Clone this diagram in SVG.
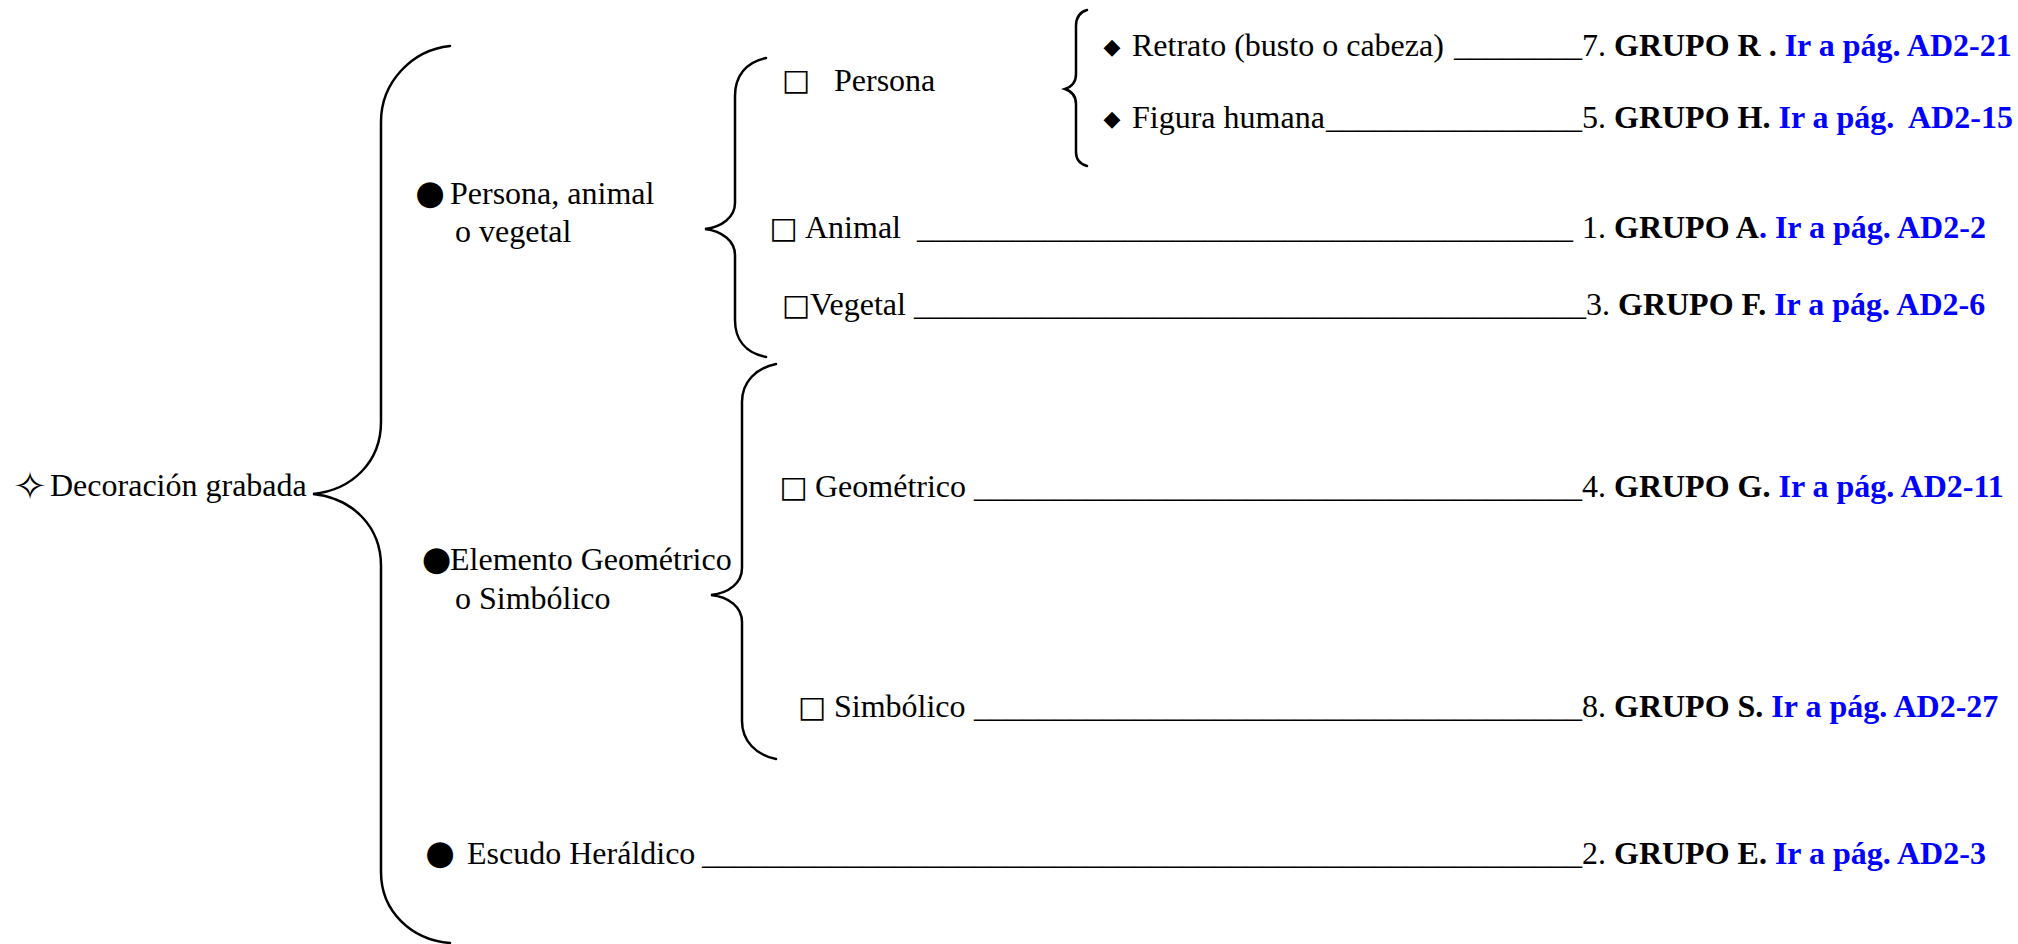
<svg xmlns="http://www.w3.org/2000/svg" width="2018" height="944" viewBox="0 0 2018 944">
<style>
.t{font-family:"Liberation Serif","Times New Roman",serif;font-size:32px;fill:#000}
.b{font-weight:bold}
.lk{fill:#0000ff;font-weight:bold}
.sym{font-family:"DejaVu Sans",sans-serif;fill:#000;text-anchor:middle}
.box{font-size:30px}
.dot{font-size:34px}
.dia{font-size:22px}
.brace{fill:none;stroke:#000;stroke-width:2.5;stroke-linecap:round}
</style>
<rect width="2018" height="944" fill="#fff"/>
<g id="connectors">
<path class="brace" d="M450,46 C412,50 381,82 381,122 L381,422 C381,462 352,490 313,494 C352,498 381,526 381,566 L381,872 C381,912 412,940 450,943"/>
<path class="brace" d="M766,58 C746,62 735,76 735,96 L735,203 C735,217 722,227 705,229 C722,231 735,241 735,255 L735,320 C735,340 746,353 766,357"/>
<path class="brace" d="M776,364 C756,368 742,382 742,402 L742,568 C742,583 729,593 711,595 C729,597 742,607 742,622 L742,721 C742,741 756,755 776,759"/>
<path class="brace" d="M1087,10 C1080,12 1076,18 1076,26 L1076,74 C1076,82 1071,87 1065,89 C1071,91 1076,96 1076,104 L1076,152 C1076,160 1080,164 1087,166"/>
</g>
<g id="root">
<text class="sym" x="30" y="500" style="font-size:40px">✧</text>
<text class="t" x="50" y="496">Decoración grabada</text>
</g>
<g id="persona-animal-vegetal">
<text class="sym dot" x="430" y="204">●</text>
<text class="t" x="450" y="204">Persona, animal</text>
<text class="t" x="455" y="242">o vegetal</text>
</g>
<g id="elemento-geometrico-simbolico">
<text class="sym dot" x="436.5" y="570">●</text>
<text class="t" x="450" y="570">Elemento Geométrico</text>
<text class="t" x="455" y="609">o Simbólico</text>
</g>
<g id="escudo-heraldico">
<text class="sym dot" x="440" y="864">●</text>
<text class="t" y="864"><tspan x="467">Escudo Heráldico</tspan><tspan x="702">_______________________________________________________</tspan><tspan x="1582">2. <tspan class="b">GRUPO E. </tspan><tspan class="lk">Ir a pág. AD2-3</tspan></tspan></text>
</g>
<g id="persona">
<text class="sym box" x="796" y="90">□</text>
<text class="t" x="834" y="91">Persona</text>
</g>
<g id="retrato">
<text class="sym dia" x="1112" y="54">◆</text>
<text class="t" y="56"><tspan x="1132">Retrato (busto o cabeza)</tspan><tspan x="1454">________</tspan><tspan x="1582">7. <tspan class="b">GRUPO R . </tspan><tspan class="lk">Ir a pág. AD2-21</tspan></tspan></text>
</g>
<g id="figura-humana">
<text class="sym dia" x="1112" y="126">◆</text>
<text class="t" y="128"><tspan x="1132">Figura humana</tspan><tspan x="1326">________________</tspan><tspan x="1582">5. <tspan class="b">GRUPO H. </tspan><tspan class="lk">Ir a pág.</tspan></tspan><tspan x="1908" class="lk">AD2-15</tspan></text>
</g>
<g id="animal">
<text class="sym box" x="783.5" y="238">□</text>
<text class="t" y="238"><tspan x="805">Animal</tspan><tspan x="917">_________________________________________</tspan><tspan x="1582">1. <tspan class="b">GRUPO A</tspan><tspan class="lk">. Ir a pág. AD2-2</tspan></tspan></text>
</g>
<g id="vegetal">
<text class="sym box" x="796" y="315">□</text>
<text class="t" y="315"><tspan x="810">Vegetal</tspan><tspan x="914">__________________________________________</tspan><tspan x="1586">3. <tspan class="b">GRUPO F. </tspan><tspan class="lk">Ir a pág. AD2-6</tspan></tspan></text>
</g>
<g id="geometrico">
<text class="sym box" x="793.5" y="497">□</text>
<text class="t" y="497"><tspan x="815">Geométrico</tspan><tspan x="974">______________________________________</tspan><tspan x="1582">4. <tspan class="b">GRUPO G. </tspan><tspan class="lk">Ir a pág. AD2-11</tspan></tspan></text>
</g>
<g id="simbolico">
<text class="sym box" x="812" y="717">□</text>
<text class="t" y="717"><tspan x="834">Simbólico</tspan><tspan x="974">______________________________________</tspan><tspan x="1582">8. <tspan class="b">GRUPO S. </tspan><tspan class="lk">Ir a pág. AD2-27</tspan></tspan></text>
</g>
</svg>
